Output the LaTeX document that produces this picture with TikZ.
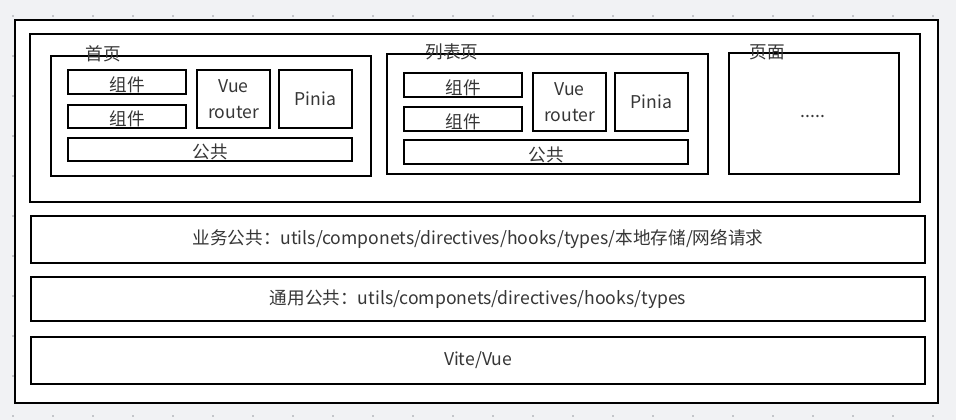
\documentclass[tikz,border=0pt]{standalone}
\usepackage{fontspec}
\setmainfont{Noto Sans CJK SC}
\usetikzlibrary{fit}
\definecolor{bggray}{HTML}{F1F2F4}
\definecolor{txtgray}{HTML}{363636}
\definecolor{dotgray}{HTML}{C4C6CA}

\begin{document}
\begin{tikzpicture}[x=0.75pt, y=-0.75pt,
    box/.style={draw=black, line width=2.2pt, fill=white, inner sep=0pt},
    frame/.style={box, line width=1.7pt},
    tag/.style={inner sep=0pt, text=txtgray, align=center,
      font=\fontsize{13.2}{19.5}\selectfont},
    low/.style={tag, yshift=-2pt}]
        % background with dot grid
        \fill[bggray] (0,0) rectangle (956,420);
        \foreach \gx in {13,53,...,933}
          \foreach \gy in {16,56,...,416}
            \fill[dotgray] (\gx-0.8,\gy-0.8) rectangle (\gx+0.8,\gy+0.8);
        \useasboundingbox (0,0) rectangle (956,420);

        % outer frame
        \node[frame, fit={(15,20) (938,403)}] (outer) {};
        \node[box, fit={(30,34) (920,202)}] (pages) {};

        % home page
        \node[box, fit={(51,56) (371,176)}] (home) {};
        \node[box, fit={(68,70) (186,94)}] (homeC1) {};
        \node[box, fit={(68,105) (186,128)}] (homeC2) {};
        \node[box, fit={(197,70) (270,128)}] (homeR) {};
        \node[box, fit={(279,70) (352,128)}] (homeP) {};
        \node[box, fit={(68,138) (352,161)}] (homeS) {};
        \node[tag] (homeLbl) at (103,54) {首页};
        \node[low] (homeC1t) at (homeC1) {组件};
        \node[low] (homeC2t) at (homeC2) {组件};
        \node[tag] (homeRt) at (homeR) {Vue\\router};
        \node[tag] (homePt) at (homeP) {Pinia};
        \node[low] (homeSt) at (homeS) {公共};

        % list page
        \node[box, fit={(387,54) (708,174)}] (list) {};
        \node[box, fit={(404,73) (522,97)}] (listC1) {};
        \node[box, fit={(404,107) (522,131)}] (listC2) {};
        \node[box, fit={(533,73) (606,131)}] (listR) {};
        \node[box, fit={(615,73) (688,131)}] (listP) {};
        \node[box, fit={(404,140) (688,164)}] (listS) {};
        \node[tag] (listLbl) at (452,52) {列表页};
        \node[low] (listC1t) at (listC1) {组件};
        \node[low] (listC2t) at (listC2) {组件};
        \node[tag] (listRt) at (listR) {Vue\\router};
        \node[tag] (listPt) at (listP) {Pinia};
        \node[low] (listSt) at (listS) {公共};

        % other pages
        \node[box, fit={(729,53) (899,174)}] (more) {};
        \node[tag] (moreLbl) at (767,52) {页面};
        \node[tag] (moreT) at (813,117) {.....};

        % shared layers
        \node[box, fit={(31,216) (925,263)}] (biz) {};
        \node[box, fit={(31,277) (925,321)}] (common) {};
        \node[box, fit={(31,337) (925,384)}] (base) {};
        \node[tag] (bizT) at (biz) {业务公共：utils/componets/directives/hooks/types/本地存储/网络请求};
        \node[tag] (commonT) at (common) {通用公共：utils/componets/directives/hooks/types};
        \node[tag] (baseT) at (base) {Vite/Vue};
    \end{tikzpicture}
\end{document}
